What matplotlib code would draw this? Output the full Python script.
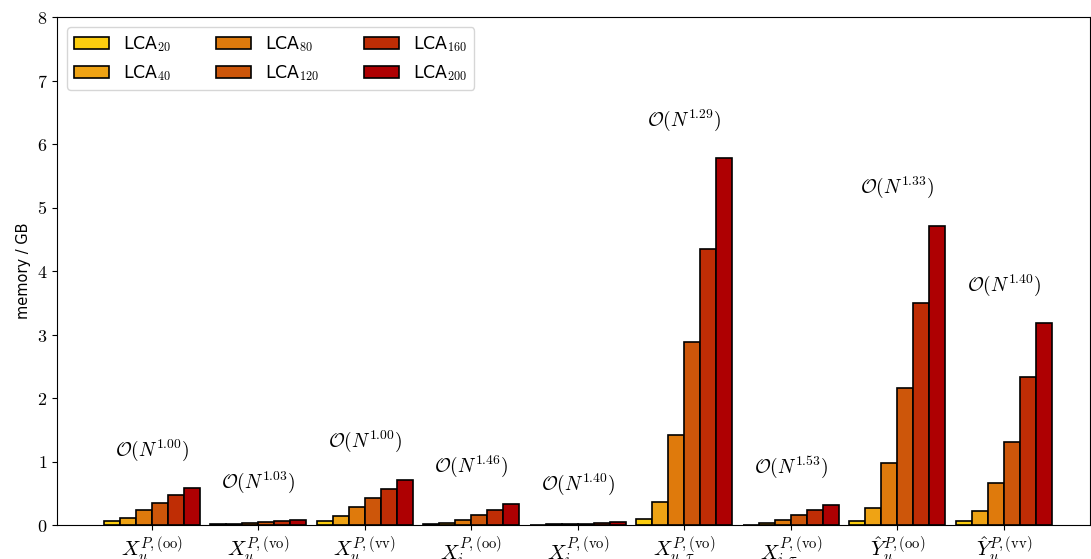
import numpy as np
import matplotlib
matplotlib.use("Agg")
import matplotlib.pyplot as plt

plt.rcParams['mathtext.fontset'] = 'cm'
plt.rcParams['font.family'] = ['DejaVu Sans']

labels = [r'$X_u^{P,(\mathrm{oo})}$', r'$X_u^{P,(\mathrm{vo})}$', r'$X_u^{P,(\mathrm{vv})}$',
          r'$X_i^{P,(\mathrm{oo})}$', r'$X_i^{P,(\mathrm{vo})}$', r'$X_{u,\tau}^{P,(\mathrm{vo})}$',
          r'$X_{i,\tau}^{P,(\mathrm{vo})}$', r'$\hat{Y}_u^{P,(\mathrm{oo})}$', r'$\hat{Y}_u^{P,(\mathrm{vv})}$']
series = ['20', '40', '80', '120', '160', '200']
lca20 = [0.06, 0.01, 0.07, 0.01, 0.005, 0.10, 0.005, 0.07, 0.06]
lca40 = [0.115, 0.02, 0.14, 0.025, 0.01, 0.36, 0.025, 0.26, 0.225]
lca80 = [0.236, 0.03, 0.28, 0.08, 0.015, 1.41, 0.08, 0.98, 0.66]
lca120 = [0.346, 0.045, 0.425, 0.155, 0.02, 2.88, 0.15, 2.16, 1.31]
lca160 = [0.47, 0.06, 0.57, 0.24, 0.03, 4.35, 0.23, 3.50, 2.33]
lca200 = [0.58, 0.08, 0.71, 0.33, 0.04, 5.78, 0.315, 4.71, 3.18]
exponents = ['1.00', '1.03', '1.00', '1.46', '1.40', '1.29', '1.53', '1.33', '1.40']
colors = ['#FCCD0F', '#EFA314', '#DF7A0C', '#CD560A', '#BF2D05', '#AE0002']

data = [lca20, lca40, lca80, lca120, lca160, lca200]

fig = plt.figure(figsize=(10.91, 5.59), dpi=100)
ax = fig.add_axes([57/1091, 34/559, 1033/1091, 508/559])
x = np.arange(len(labels))
width = 0.15
for k, (vals, c) in enumerate(zip(data, colors)):
    ax.bar(x + (k - 2.5) * width, vals, width, color=c, edgecolor='black',
           linewidth=1.2, label='LCA$_{%s}$' % series[k])

# scaling annotation above each group
for i in range(len(labels)):
    top = max(d[i] for d in data)
    ax.text(x[i], top + 0.6, r'$\mathcal{O}(N^{%s})$' % exponents[i],
            ha='center', va='center', fontsize=14)

ax.set_xlim(-0.89, 8.81)
ax.set_ylim(0, 8)
ax.set_xticks(x)
ax.set_xticklabels(labels, fontsize=15)
ax.set_yticks(range(9))
ax.set_yticklabels([r'$%d$' % v for v in range(9)], fontsize=13)
ax.set_ylabel('memory / GB', fontsize=10.5)
ax.legend(loc='upper left', ncol=3, fontsize=12.5, handlelength=2.0, columnspacing=2.6,
          borderaxespad=0.6)

fig.savefig('out.png', dpi=100)
